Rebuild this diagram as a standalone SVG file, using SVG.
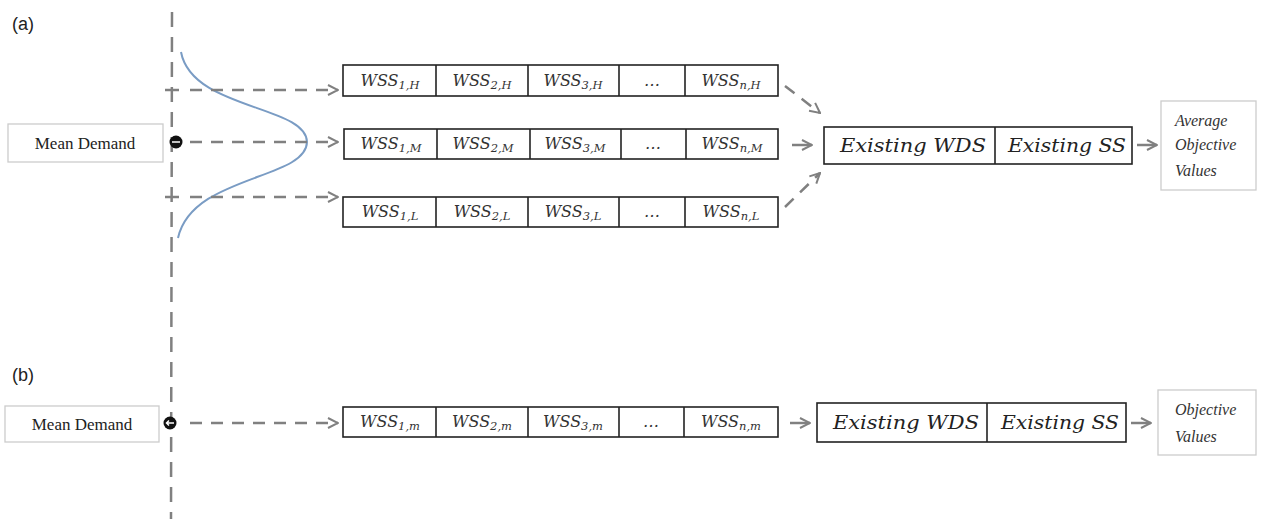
<svg xmlns="http://www.w3.org/2000/svg" width="1261" height="519" viewBox="0 0 1261 519">
<defs>
<marker id="ah" viewBox="0 0 10 10" refX="9" refY="5" markerWidth="5" markerHeight="5" orient="auto" markerUnits="strokeWidth">
<path d="M1,1 L9,5 L1,9" fill="none" stroke="#808080" stroke-width="1.6"/>
</marker>
<style>
.dash{stroke:#808080;stroke-width:2.5;stroke-dasharray:12 9;fill:none}
.vdash{stroke:#808080;stroke-width:2.5;stroke-dasharray:15 10;fill:none}
.arr{stroke:#808080;stroke-width:2.5;fill:none}
.cell{fill:#fff;stroke:#222;stroke-width:1.6}
.lbl{fill:#fff;stroke:#ccc;stroke-width:1.3}
.wss{font-family:"DejaVu Serif","Liberation Serif",serif;font-style:italic;font-size:16px;fill:#333;text-anchor:middle}
.sub{font-size:11.5px}
.ex{font-family:"DejaVu Serif","Liberation Serif",serif;font-style:italic;font-size:18px;fill:#222}
.md{font-family:"Liberation Serif",serif;font-size:17px;fill:#222;text-anchor:middle}
.ov{font-family:"Liberation Serif",serif;font-style:italic;font-size:16px;fill:#333}
.tag{font-family:"Liberation Sans",sans-serif;font-size:18px;fill:#222}
</style>
</defs>
<rect width="1261" height="519" fill="#fff"/>
<text class="tag" x="12" y="30">(a)</text>
<text class="tag" x="12" y="381">(b)</text>

<g id="connectors">
<line class="vdash" x1="172" y1="12" x2="171" y2="519"/>
<line class="arr" x1="165" y1="90" x2="179" y2="90"/>
<line class="arr" x1="165" y1="197" x2="179" y2="197"/>
<path d="M181,52 C192,110 306,105 307,142 C306,180 192,175 178,238" fill="none" stroke="#7a9cc4" stroke-width="2"/>
<line class="dash" x1="190" y1="90" x2="338" y2="90" marker-end="url(#ah)"/>
<line class="dash" x1="190" y1="142" x2="338" y2="142" marker-end="url(#ah)"/>
<line class="dash" x1="190" y1="197" x2="338" y2="197" marker-end="url(#ah)"/>
<line class="dash" x1="785" y1="86" x2="820" y2="113" stroke-dasharray="10 7" marker-end="url(#ah)"/>
<line class="arr" x1="792" y1="145" x2="812" y2="145" marker-end="url(#ah)"/>
<line class="dash" x1="785" y1="207" x2="820" y2="173" stroke-dasharray="10 7" marker-end="url(#ah)"/>
<line class="arr" x1="1137" y1="145" x2="1157" y2="145" marker-end="url(#ah)"/>
<line class="dash" x1="190" y1="423" x2="338" y2="423" marker-end="url(#ah)"/>
<line class="arr" x1="790" y1="423" x2="810" y2="423" marker-end="url(#ah)"/>
<line class="arr" x1="1131" y1="423" x2="1151" y2="423" marker-end="url(#ah)"/>
</g>

<g id="mean-a">
<rect class="lbl" x="8" y="124" width="155" height="38"/>
<text class="md" x="85" y="149">Mean Demand</text>
<circle cx="176" cy="142" r="6.5" fill="#111"/>
<line x1="172" y1="142" x2="180" y2="142" stroke="#fff" stroke-width="1.5"/>
</g>

<g id="row-H">
<rect class="cell" x="343" y="65" width="435" height="31"/>
<line class="cell" x1="436" y1="65" x2="436" y2="96"/>
<line class="cell" x1="528" y1="65" x2="528" y2="96"/>
<line class="cell" x1="619" y1="65" x2="619" y2="96"/>
<line class="cell" x1="685" y1="65" x2="685" y2="96"/>
<text class="wss" x="390" y="86">WSS<tspan class="sub" dy="3">1,H</tspan></text>
<text class="wss" x="482" y="86">WSS<tspan class="sub" dy="3">2,H</tspan></text>
<text class="wss" x="573" y="86">WSS<tspan class="sub" dy="3">3,H</tspan></text>
<text class="wss" x="652" y="86">…</text>
<text class="wss" x="731" y="86">WSS<tspan class="sub" dy="3">n,H</tspan></text>
</g>

<g id="row-M">
<rect class="cell" x="344" y="129" width="434" height="30"/>
<line class="cell" x1="437" y1="129" x2="437" y2="159"/>
<line class="cell" x1="530" y1="129" x2="530" y2="159"/>
<line class="cell" x1="621" y1="129" x2="621" y2="159"/>
<line class="cell" x1="686" y1="129" x2="686" y2="159"/>
<text class="wss" x="391" y="149">WSS<tspan class="sub" dy="3">1,M</tspan></text>
<text class="wss" x="483" y="149">WSS<tspan class="sub" dy="3">2,M</tspan></text>
<text class="wss" x="575" y="149">WSS<tspan class="sub" dy="3">3,M</tspan></text>
<text class="wss" x="653" y="149">…</text>
<text class="wss" x="732" y="149">WSS<tspan class="sub" dy="3">n,M</tspan></text>
</g>

<g id="row-L">
<rect class="cell" x="343" y="197" width="435" height="30"/>
<line class="cell" x1="436" y1="197" x2="436" y2="227"/>
<line class="cell" x1="528" y1="197" x2="528" y2="227"/>
<line class="cell" x1="619" y1="197" x2="619" y2="227"/>
<line class="cell" x1="685" y1="197" x2="685" y2="227"/>
<text class="wss" x="390" y="217">WSS<tspan class="sub" dy="3">1,L</tspan></text>
<text class="wss" x="482" y="217">WSS<tspan class="sub" dy="3">2,L</tspan></text>
<text class="wss" x="573" y="217">WSS<tspan class="sub" dy="3">3,L</tspan></text>
<text class="wss" x="652" y="217">…</text>
<text class="wss" x="731" y="217">WSS<tspan class="sub" dy="3">n,L</tspan></text>
</g>

<g id="existing-a">
<rect class="cell" x="824" y="127" width="308" height="37"/>
<line class="cell" x1="995" y1="127" x2="995" y2="164"/>
<text class="ex" x="840" y="152" textLength="146" lengthAdjust="spacingAndGlyphs">Existing WDS</text>
<text class="ex" x="1008" y="152" textLength="118" lengthAdjust="spacingAndGlyphs">Existing SS</text>
</g>

<g id="output-a">
<rect class="lbl" x="1161" y="101" width="95" height="89"/>
<text class="ov" x="1175" y="126">Average</text>
<text class="ov" x="1175" y="150">Objective</text>
<text class="ov" x="1175" y="176">Values</text>
</g>

<g id="mean-b">
<rect class="lbl" x="5" y="406" width="154" height="36"/>
<text class="md" x="82" y="430">Mean Demand</text>
<circle cx="170" cy="423" r="6.5" fill="#111"/>
<path d="M174,423 L167,423 M169,420.5 L166.5,423 L169,425.5" stroke="#fff" stroke-width="1.5" fill="none"/>
</g>

<g id="row-m">
<rect class="cell" x="343" y="407" width="435" height="30"/>
<line class="cell" x1="436" y1="407" x2="436" y2="437"/>
<line class="cell" x1="528" y1="407" x2="528" y2="437"/>
<line class="cell" x1="619" y1="407" x2="619" y2="437"/>
<line class="cell" x1="684" y1="407" x2="684" y2="437"/>
<text class="wss" x="390" y="427">WSS<tspan class="sub" dy="3">1,m</tspan></text>
<text class="wss" x="482" y="427">WSS<tspan class="sub" dy="3">2,m</tspan></text>
<text class="wss" x="573" y="427">WSS<tspan class="sub" dy="3">3,m</tspan></text>
<text class="wss" x="651" y="427">…</text>
<text class="wss" x="731" y="427">WSS<tspan class="sub" dy="3">n,m</tspan></text>
</g>

<g id="existing-b">
<rect class="cell" x="817" y="403" width="309" height="39"/>
<line class="cell" x1="987" y1="403" x2="987" y2="442"/>
<text class="ex" x="833" y="429" textLength="146" lengthAdjust="spacingAndGlyphs">Existing WDS</text>
<text class="ex" x="1001" y="429" textLength="118" lengthAdjust="spacingAndGlyphs">Existing SS</text>
</g>

<g id="output-b">
<rect class="lbl" x="1158" y="390" width="98" height="65"/>
<text class="ov" x="1175" y="415">Objective</text>
<text class="ov" x="1175" y="442">Values</text>
</g>
</svg>
